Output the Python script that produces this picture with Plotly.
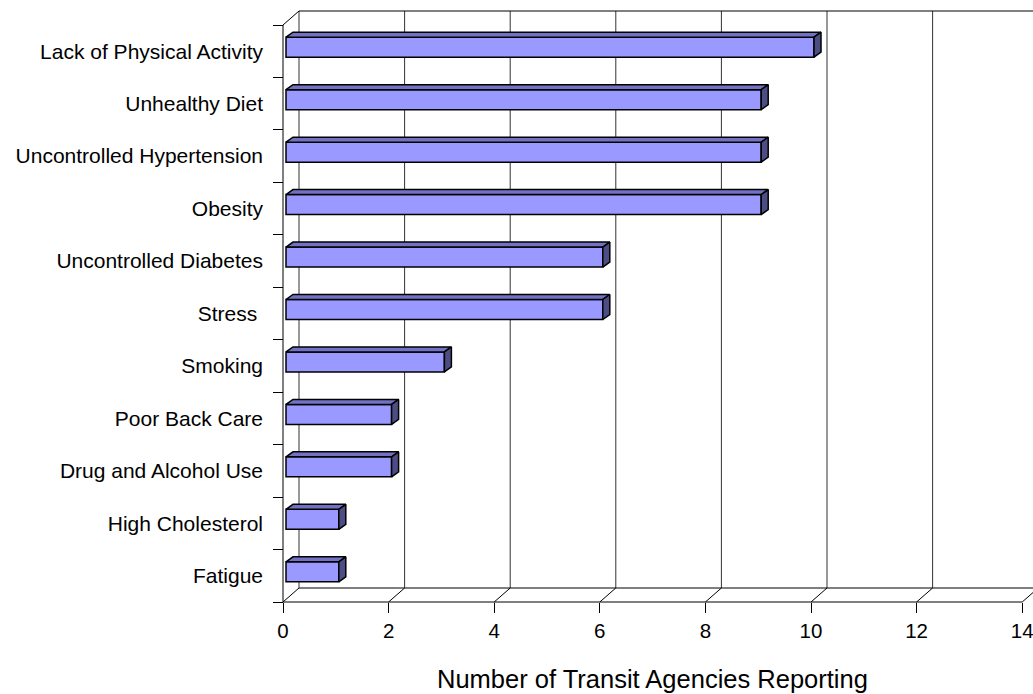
import plotly.graph_objects as go

# Health risk factors (bottom to top) and number of agencies reporting each
categories = [
    "Fatigue",
    "High Cholesterol",
    "Drug and Alcohol Use",
    "Poor Back Care",
    "Smoking",
    "Stress ",
    "Uncontrolled Diabetes",
    "Obesity",
    "Uncontrolled Hypertension",
    "Unhealthy Diet",
    "Lack of Physical Activity",
]
agencies = [1, 1, 2, 2, 3, 6, 6, 9, 9, 9, 10]
x_ticks = [0, 2, 4, 6, 8, 10, 12, 14]

FONT = "Liberation Sans"
W, H = 1033, 694

# Plot-area geometry (pixels)
ML, MT = 265, 0
PLOT_W, PLOT_H = W - ML, 616
FRONT_X0 = 283          # pixel of x = 0 on the front plane
FRONT_Y0 = 602          # pixel of the front floor edge
PX_X = 52.8             # pixels per agency
PX_Y = 577 / 11         # pixels per category

n = len(categories)
x_range = [(ML - FRONT_X0) / PX_X, (W - FRONT_X0) / PX_X]
y_bottom = -0.5 - (MT + PLOT_H - FRONT_Y0) / PX_Y
y_top = -0.5 + (FRONT_Y0 - MT) / PX_Y

# 3-D depth of the walls and of the bars, converted to data units
DX, DY = 16 / PX_X, 14 / PX_Y
BX0, BY0 = 3 / PX_X, 4 / PX_Y
BAR_H = 20 / PX_Y
BDX, BDY = 7 / PX_X, 5 / PX_Y

FRONT = "#9999FF"
TOP = "#7272C4"
SIDE = "#4D4D85"

fig = go.Figure()

# front faces
fig.add_trace(go.Bar(
    orientation="h",
    x=agencies,
    base=[BX0] * n,
    y=[i + BY0 for i in range(n)],
    width=BAR_H,
    marker=dict(color=FRONT, line=dict(color="black", width=1.5)),
    hoverinfo="skip",
    showlegend=False,
))

# top and side faces
top_x, top_y, side_x, side_y = [], [], [], []
for i, v in enumerate(agencies):
    yc = i + BY0
    yt, yb = yc + BAR_H / 2, yc - BAR_H / 2
    x0, x1 = BX0, BX0 + v
    top_x += [x0, x1, x1 + BDX, x0 + BDX, x0, None]
    top_y += [yt, yt, yt + BDY, yt + BDY, yt, None]
    side_x += [x1, x1, x1 + BDX, x1 + BDX, x1, None]
    side_y += [yb, yt, yt + BDY, yb + BDY, yb, None]

for xs, ys, col in [(top_x, top_y, TOP), (side_x, side_y, SIDE)]:
    fig.add_trace(go.Scatter(
        x=xs, y=ys, mode="lines", fill="toself", fillcolor=col,
        line=dict(color="black", width=1.5),
        hoverinfo="skip", showlegend=False,
    ))

# walls, floor and gridlines
shapes = []


def seg(x0, y0, x1, y1, color="black", width=1):
    shapes.append(dict(type="line", xref="x", yref="y", x0=x0, y0=y0,
                       x1=x1, y1=y1, layer="below",
                       line=dict(color=color, width=width)))


y_lo, y_hi = -0.5, n - 0.5
x_max = x_ticks[-1]
for t in x_ticks:
    seg(t + DX, y_lo + DY, t + DX, y_hi + DY, color="#333333")   # back wall grid
    seg(t, y_lo, t + DX, y_lo + DY)                              # floor diagonals
seg(DX, y_hi + DY, x_max + DX, y_hi + DY)        # back wall top
seg(DX, y_lo + DY, x_max + DX, y_lo + DY)        # back floor edge
seg(0, y_lo, x_max, y_lo)                        # front floor edge
seg(0, y_lo, 0, y_hi)                            # front value axis
seg(0, y_hi, DX, y_hi + DY)                      # side wall top

fig.update_layout(
    width=W, height=H,
    margin=dict(l=ML, r=0, t=MT, b=H - MT - PLOT_H, pad=0),
    paper_bgcolor="white", plot_bgcolor="white",
    font=dict(family=FONT, color="black", size=20),
    shapes=shapes,
    showlegend=False,
    xaxis=dict(
        range=x_range, domain=[0, 1], anchor="free",
        position=(MT + PLOT_H - FRONT_Y0) / PLOT_H,
        tickmode="array", tickvals=x_ticks, ticktext=[str(t) for t in x_ticks],
        ticks="outside", ticklen=10, tickwidth=1, tickcolor="black",
        ticklabeloverflow="allow",
        showgrid=False, zeroline=False, showline=False,
        tickfont=dict(family=FONT, size=20.5, color="black"),
        fixedrange=True,
    ),
    yaxis=dict(
        range=[y_bottom, y_top], domain=[0, 1], anchor="free",
        position=(FRONT_X0 - ML) / PLOT_W,
        tickmode="array", tickvals=list(range(n)), ticktext=categories,
        ticks="", ticklabelstandoff=20, ticklabeloverflow="allow",
        minor=dict(tickmode="array", tickvals=[i - 0.5 for i in range(n + 1)],
                   ticks="outside", ticklen=10, tickwidth=1, tickcolor="black",
                   showgrid=False),
        showgrid=False, zeroline=False, showline=False,
        tickfont=dict(family=FONT, size=21, color="black"),
        fixedrange=True,
    ),
    annotations=[dict(
        text="Number of Transit Agencies Reporting",
        xref="paper", yref="paper",
        x=(652 - ML) / PLOT_W, y=-(679 - PLOT_H) / PLOT_H,
        xanchor="center", yanchor="middle", showarrow=False,
        font=dict(family=FONT, size=25.5, color="black"),
    )],
)

fig.write_html("out.html")
